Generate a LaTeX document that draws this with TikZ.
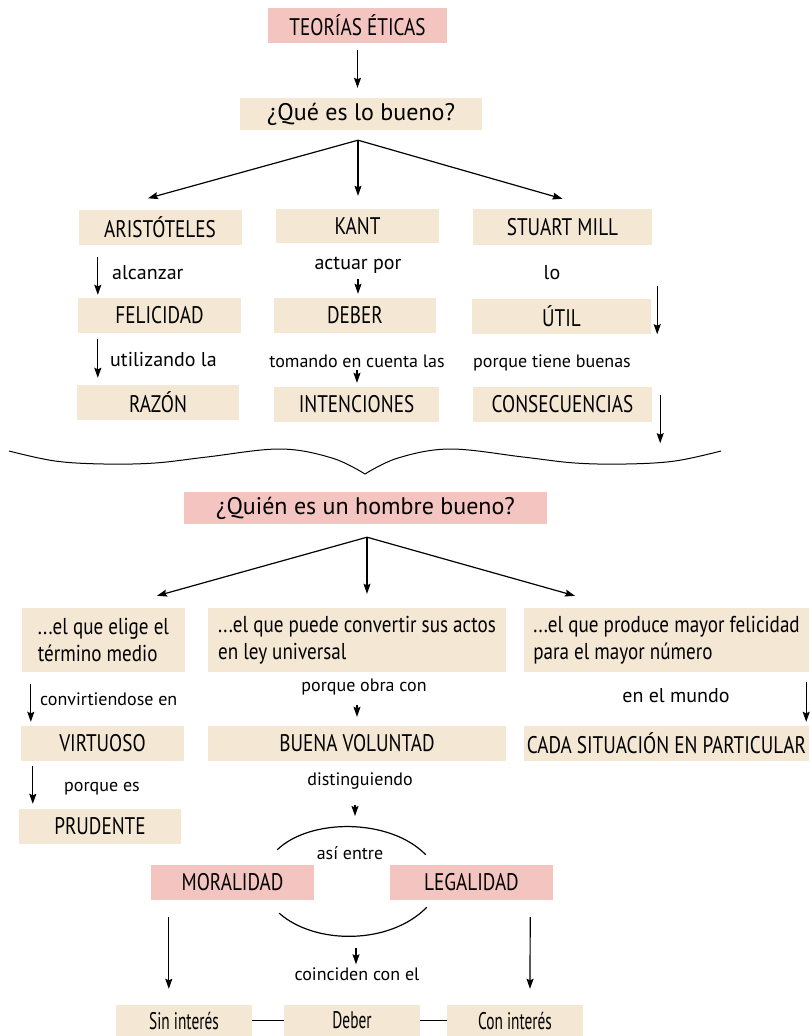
\documentclass[tikz,border=0pt]{standalone}
\usepackage{fontspec}
\setmainfont{PT Sans}
\newfontfamily\capfont[FakeStretch=0.8]{PT Sans}
\newfontfamily\twofont[FakeStretch=0.83]{PT Sans}
\newfontfamily\narfont[FakeStretch=0.64]{PT Sans}
\usetikzlibrary{arrows.meta,calc}
\usepackage{xcolor}
\definecolor{pinkbox}{RGB}{243,196,192}
\definecolor{beigebox}{RGB}{244,231,211}
\newcommand{\boxht}{35pt}
\tikzset{
    pksty/.style={fill=pinkbox,rectangle,inner sep=0pt,minimum height=\boxht,font=\capfont\fontsize{24}{28}\selectfont},
    bgsty/.style={fill=beigebox,rectangle,inner sep=0pt,minimum height=\boxht,font=\capfont\fontsize{24}{28}\selectfont},
    qsty/.style={font=\fontsize{24}{28}\selectfont},
    twosty/.style={bgsty,minimum height=64pt,align=left,font=\twofont\fontsize{23}{27}\selectfont},
    botsty/.style={bgsty,minimum width=136pt,minimum height=31pt,font=\narfont\fontsize{24}{27}\selectfont},
    lblsty/.style={inner sep=0pt,font=\fontsize{20}{23}\selectfont},
    smlsty/.style={inner sep=0pt,font=\fontsize{18}{21}\selectfont},
    arsty/.style={->,line width=1.2pt},
    arcsty/.style={line width=1.2pt},
}

\begin{document}
\begin{tikzpicture}[>={Stealth[length=10pt,width=7pt,inset=1.5pt]},x=1pt,y=-1pt]
\useasboundingbox (0,0) rectangle (809,1036);

% que es lo bueno
\node[pksty,minimum width=179pt] (teo) at (357.5,25.5) {TEORÍAS ÉTICAS};
\node[bgsty,qsty,minimum width=242pt,minimum height=32pt] (que) at (361,114) {¿Qué es lo bueno?};
\node[bgsty,minimum width=163pt] (ari) at (160,227) {ARISTÓTELES};
\node[bgsty,minimum width=163pt,minimum height=34pt] (kant) at (357.5,226) {KANT};
\node[bgsty,minimum width=179pt,minimum height=36pt] (mill) at (562.5,227) {STUART MILL};
\node[bgsty,minimum width=163pt] (feli) at (159.5,315.5) {FELICIDAD};
\node[bgsty,minimum width=162pt] (deb) at (355,315.5) {DEBER};
\node[bgsty,minimum width=179pt] (util) at (561.5,316.5) {ÚTIL};
\node[bgsty,minimum width=162pt] (raz) at (158,402.5) {RAZÓN};
\node[bgsty,minimum width=165pt] (inte) at (356.5,404.5) {INTENCIONES};
\node[bgsty,minimum width=179pt] (cons) at (562.5,404.5) {CONSECUENCIAS};

\node[lblsty,anchor=west] (alc) at (112,273) {alcanzar};
\node[lblsty] (act) at (358,265) {actuar por};
\node[lblsty] (lo) at (552,273) {lo};
\node[lblsty,anchor=west] (utz) at (110,360) {utilizando la};
\node[smlsty] (tom) at (357,361) {tomando en cuenta las};
\node[smlsty,anchor=west] (ptb) at (473,363) {porque tiene buenas};

\draw[arsty,shorten <=7pt,shorten >=10pt] (teo.south) -- (teo.south |- que.north);
\coordinate (qs) at ([xshift=-3pt,yshift=-10pt]que.south);
\draw[arsty] (qs) -- ([xshift=-12pt,yshift=11pt]ari.north);
\draw[arsty] (qs) -- ([yshift=13pt]qs |- kant.north);
\draw[arsty] (qs) -- ([yshift=10pt]mill.north);
\draw[arsty] ([xshift=19.5pt,yshift=-12.5pt]ari.south west) -- ([xshift=20pt,yshift=3pt]feli.north west);
\draw[arsty,shorten <=6pt,shorten >=4pt] (act.south) -- (act.south |- deb.north);
\draw[arsty] ([xshift=6pt,yshift=13pt]util.north east) -- ([xshift=6pt]util.south east);
\draw[arsty] ([xshift=20pt,yshift=-6pt]feli.south west) -- ([xshift=21pt,yshift=7pt]raz.north west);
\draw[arsty,shorten <=2pt,shorten >=4pt] (tom.south) -- (tom.south |- inte.north);
\draw[arsty] ([xshift=8pt,yshift=-8pt]cons.north east) -- ([xshift=8pt,yshift=-21pt]cons.south east);

% llave
\draw[line width=1pt] plot[smooth,tension=0.6] coordinates {(9,451) (55,461) (104,464) (155,463) (207,457) (280,449) (332,458) (365,474)};
\draw[line width=1pt] plot[smooth,tension=0.6] coordinates {(721,451) (675,461) (626,464) (575,463) (523,457) (450,449) (398,458) (365,474)};

% quien es un hombre bueno
\node[pksty,qsty,minimum width=363pt,minimum height=32pt] (quien) at (365.5,508) {¿Quién es un hombre bueno?};
\node[twosty,minimum width=163pt] (elige) at (103.5,640) {...el que elige el\\término medio};
\node[twosty,minimum width=298pt] (puede) at (357,640) {...el que puede convertir sus actos\\en ley universal};
\node[twosty,minimum width=285pt] (prod) at (666.5,640) {...el que produce mayor felicidad\\para el mayor número};
\node[bgsty,minimum width=163pt] (virt) at (102.5,743.5) {VIRTUOSO};
\node[bgsty,minimum width=298pt] (buena) at (357,743.5) {BUENA VOLUNTAD};
\node[bgsty,minimum width=285pt] (cada) at (666.5,743.5) {CADA SITUACIÓN EN PARTICULAR};
\node[bgsty,minimum width=162pt] (prud) at (100,826.5) {PRUDENTE};
\node[pksty,minimum width=163pt] (moral) at (232.5,882.5) {MORALIDAD};
\node[pksty,minimum width=163pt] (legal) at (471.5,882.5) {LEGALIDAD};
\node[botsty] (sin) at (184,1020.5) {Sin interés};
\node[botsty] (dbr) at (352,1020.5) {Deber};
\node[botsty] (con) at (515,1020.5) {Con interés};

\node[smlsty,anchor=west] (conv) at (40,699) {convirtiendose en};
\node[smlsty] (obra) at (364,687) {porque obra con};
\node[lblsty] (mund) at (676,696) {en el mundo};
\node[smlsty,anchor=west] (pes) at (64,789) {porque es};
\node[smlsty] (dist) at (360,781) {distinguiendo};
\node[smlsty] (asi) at (350,853) {así entre};
\node[smlsty] (coin) at (357,974) {coinciden con el};

\coordinate (qb) at ([xshift=1.5pt,yshift=-13pt]quien.south);
\draw[arsty] (qb) -- ([xshift=53.5pt,yshift=12pt]elige.north);
\draw[arsty] (qb) -- ([yshift=14pt]qb |- puede.north);
\draw[arsty] (qb) -- ([xshift=-91.5pt,yshift=12pt]prod.north);
\draw[arsty] ([xshift=9pt,yshift=-12pt]elige.south west) -- ([xshift=10pt,yshift=4pt]virt.north west);
\draw[arsty,shorten <=10pt,shorten >=9pt] (obra.south -| buena.north) -- (buena.north);
\draw[arsty] ([xshift=-3pt,yshift=-10pt]prod.south east) -- ([xshift=-3pt,yshift=4pt]cada.north east);
\draw[arsty] ([xshift=12pt,yshift=-5pt]virt.south west) -- ([xshift=14pt,yshift=5pt]prud.north west);

% moralidad y legalidad
\draw[arcsty] ([xshift=-37pt,yshift=15pt]moral.north east) .. controls (310,818) and (390,818) .. ([xshift=36pt,yshift=10pt]legal.north west);
\draw[arcsty] ([xshift=-35pt,yshift=-13pt]moral.south east) .. controls (315,945) and (390,945) .. ([xshift=37pt,yshift=-7pt]legal.south west);
\coordinate (arctop) at (355,825);
\coordinate (arcbot) at (356,937);
\draw[arsty,shorten <=16pt,shorten >=9pt] (dist.south -| arctop) -- (arctop);
\draw[arsty,shorten <=11pt,shorten >=3pt] (arcbot) -- (arcbot |- coin.north);
\draw[arsty] ([xshift=18pt,yshift=-17pt]moral.south west) -- ([xshift=53pt,yshift=16pt]sin.north west);
\draw[arsty] ([xshift=-23pt,yshift=-17pt]legal.south east) -- ([xshift=15pt,yshift=16pt]con.north);
\draw[arcsty] (sin.east) -- (dbr.west);
\draw[arcsty] (dbr.east) -- (con.west);
\end{tikzpicture}
\end{document}
